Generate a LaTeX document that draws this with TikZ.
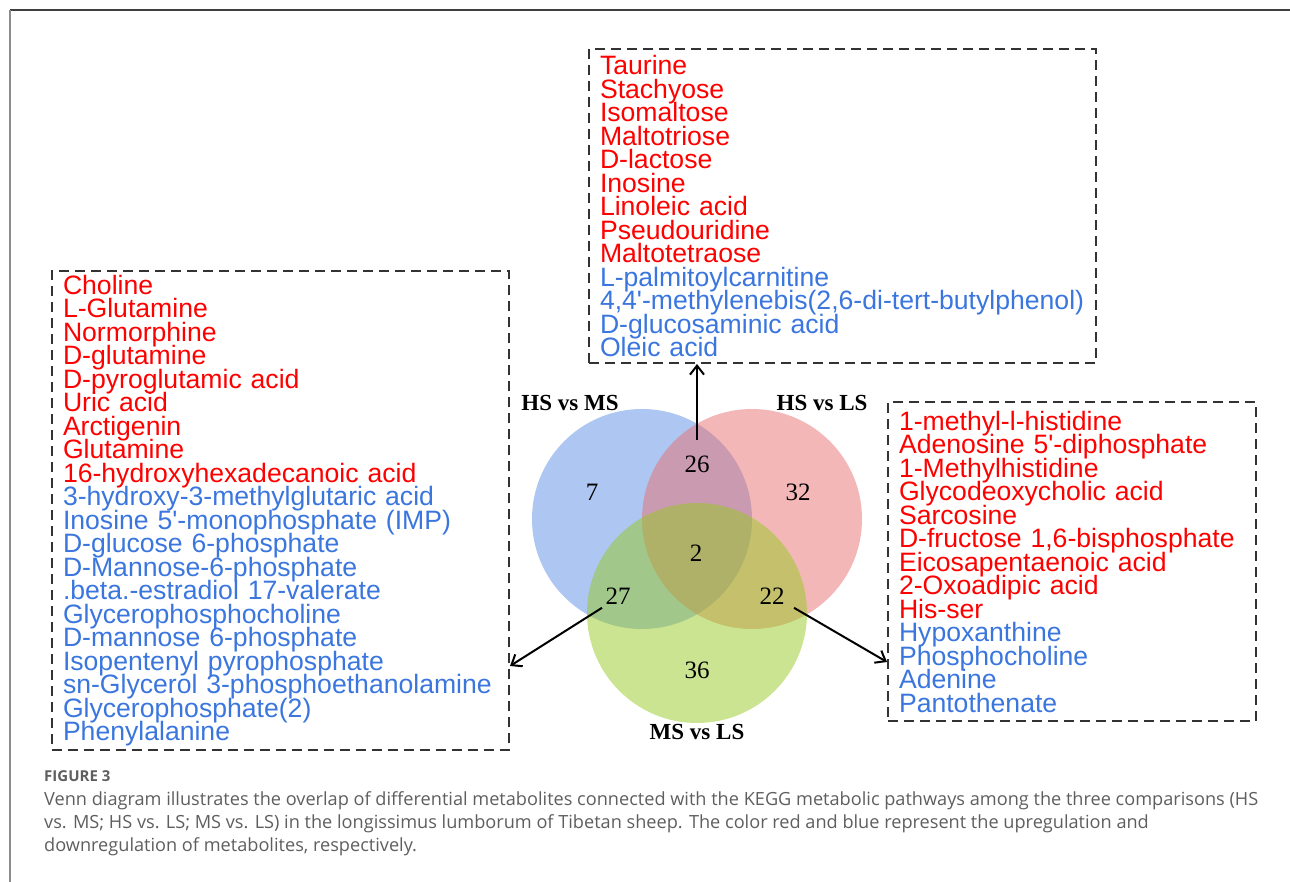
\documentclass[tikz,border=0pt]{standalone}
\usepackage{fontspec}
\usetikzlibrary{arrows.meta,positioning,calc}
\newfontfamily\listfont{Liberation Sans}
\newfontfamily\vennfont{Liberation Serif}
\newfontfamily\capfont{Open Sans}
\definecolor{upred}{HTML}{FF0000}
\definecolor{downblue}{HTML}{3A76DE}
\definecolor{vBlue}{RGB}{91,141,229}
\definecolor{vRed}{RGB}{231,111,111}
\definecolor{vGreen}{RGB}{151,201,35}
\definecolor{capgray}{HTML}{5E5E5E}

\begin{document}
\begin{tikzpicture}[x=1pt,y=-1pt,
  listbox/.style={draw=black!80,line width=2pt,dash pattern=on 10pt off 6pt,
    align=left,inner xsep=11pt,inner ysep=0pt,anchor=north west,
    font={\listfont\fontsize{26.6}{23.5}\selectfont\lineskiplimit=-50pt}},
  setname/.style={font={\vennfont\bfseries\fontsize{23}{23}\selectfont}},
  count/.style={font={\vennfont\fontsize{25}{25}\selectfont}},
  link/.style={line width=2pt,-{Straight Barb[length=9pt,width=14pt,line width=2pt]}}]
  \useasboundingbox (0,0) rectangle (1290,882);
  \draw[black!75,line width=2pt] (1290,10) -- (10,10);
  \draw[black!45,line width=2pt] (10,10) -- (10,882);

  % venn circles
  \foreach \cx/\cy/\cc in {642/519/vBlue,752/519/vRed,697/613/vGreen}{
    \fill[\cc,fill opacity=.5] (\cx,\cy) circle[radius=110pt];
  }
  \node[setname] (hsms) at (570,403) {HS vs MS};
  \node[setname] (hsls) at (822,403) {HS vs LS};
  \node[setname] (msls) at (697,732) {MS vs LS};
  \foreach \nm/\px/\py/\v in {n7/592/492/7,n26/697/464/26,n32/798/492/32,n2/696/553/2,
      n27/618/596/27,n22/772/596/22,n36/697/670/36}{
    \node[count] (\nm) at (\px,\py) {\v};
  }

  % metabolite lists
  \node[listbox,text width=485pt,minimum height=314pt] (topbox) at (588,48) {%
    \color{upred}Taurine\\Stachyose\\Isomaltose\\Maltotriose\\D-lactose\\Inosine\\
    Linoleic acid\\Pseudouridine\\Maltotetraose\\
    \color{downblue}L-palmitoylcarnitine\\4,4\textquotesingle-methylenebis(2,6-di-tert-butylphenol)\\
    D-glucosaminic acid\\Oleic acid};
  \node[listbox,text width=435pt,minimum height=479pt] (leftbox) at (51,270) {%
    \color{upred}Choline\\L-Glutamine\\Normorphine\\D-glutamine\\D-pyroglutamic acid\\
    Uric acid\\Arctigenin\\Glutamine\\16-hydroxyhexadecanoic acid\\
    \color{downblue}3-hydroxy-3-methylglutaric acid\\Inosine 5\textquotesingle-monophosphate (IMP)\\
    D-glucose 6-phosphate\\D-Mannose-6-phosphate\\.beta.-estradiol 17-valerate\\
    Glycerophosphocholine\\D-mannose 6-phosphate\\Isopentenyl pyrophosphate\\
    sn-Glycerol 3-phosphoethanolamine\\Glycerophosphate(2)\\Phenylalanine};
  \node[listbox,text width=346pt,minimum height=319pt] (rightbox) at (887,401) {%
    \color{upred}1-methyl-l-histidine\\Adenosine 5\textquotesingle-diphosphate\\1-Methylhistidine\\
    Glycodeoxycholic acid\\Sarcosine\\D-fructose 1,6-bisphosphate\\
    Eicosapentaenoic acid\\2-Oxoadipic acid\\His-ser\\
    \color{downblue}Hypoxanthine\\Phosphocholine\\Adenine\\Pantothenate};

  \draw[link] ([yshift=12pt]n26.north) -- (n26.north |- topbox.south);
  \draw[link] (n27.south west) -- (leftbox.east |- 0,666);
  \draw[link] ([xshift=6pt]n22.south east) -- (rightbox.west |- 0,662);

  % caption
  \node[anchor=west,inner sep=0pt,text=capgray,font={\capfont\bfseries\fontsize{15}{15}\selectfont}]
    (figno) at (44,776) {FIGURE 3};
  \node[anchor=north west,inner sep=0pt,align=left,text=capgray,
    font={\capfont\fontsize{18.15}{23}\selectfont}] (caption) at (44,791) {%
    Venn diagram illustrates the overlap of differential metabolites connected with the KEGG metabolic pathways among the three comparisons (HS\\
    vs. MS; HS vs. LS; MS vs. LS) in the longissimus lumborum of Tibetan sheep. The color red and blue represent the upregulation and\\
    downregulation of metabolites, respectively.};
\end{tikzpicture}
\end{document}
